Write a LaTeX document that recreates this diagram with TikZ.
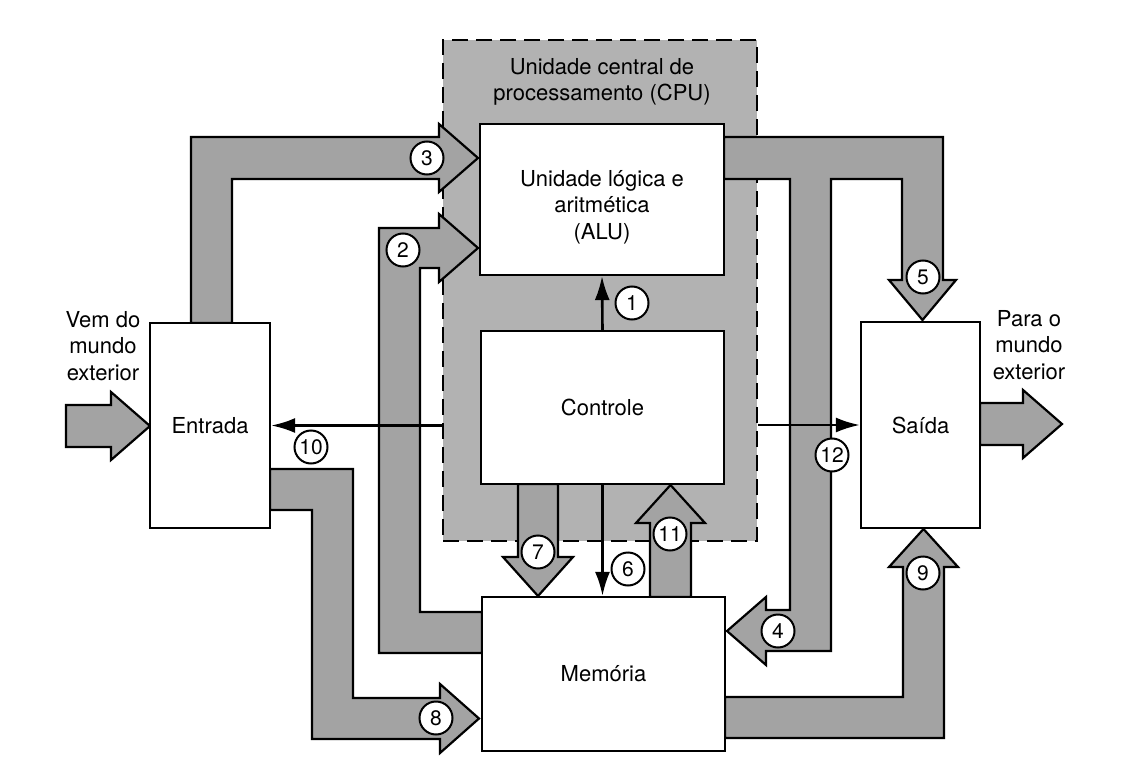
\documentclass[tikz,border=0pt]{standalone}
\usepackage{fontspec}
\setmainfont{TeX Gyre Heros}
\usetikzlibrary{arrows.meta}
\definecolor{busgray}{gray}{0.64}
\definecolor{cpugray}{gray}{0.70}

\begin{document}
\begin{tikzpicture}[x=1pt, y=-1pt,
  every node/.style={font=\fontsize{22}{26.5}\selectfont, align=center},
  cpubox/.style={draw, dash pattern=on 16pt off 8pt, line width=2.4pt, fill=cpugray, minimum width=314pt, minimum height=501pt, inner sep=0pt},
  unit/.style={draw, line width=2.2pt, fill=white, inner sep=0pt},
  bus/.style={draw, line width=2.2pt, fill=busgray, line join=miter},
  flow/.style={-{Latex[length=24pt,width=15pt]}, line width=2.6pt},
  num/.style={draw, circle, line width=2pt, fill=white, minimum size=33pt, inner sep=0pt, font=\fontsize{21}{21}\selectfont},
]
\useasboundingbox (0,0) rectangle (1125,768);

\node[cpubox] (cpu) at (600,290.5) {};
\node (cputxt) at (602,82) {Unidade central de\\processamento (CPU)};

% buses
\draw[bus] (191,323) -- (191,137) -- (439,137) -- (439,124) -- (478,158) -- (439,192) -- (439,179) -- (232,179) -- (232,323) -- cycle;
\draw[bus] (482,653) -- (379,653) -- (379,228) -- (439,228) -- (439,214) -- (478,248) -- (439,282) -- (439,268) -- (420,268) -- (420,612) -- (482,612) -- cycle;
\draw[bus] (270,469) -- (353,469) -- (353,698) -- (440,698) -- (440,684) -- (479,718.5) -- (440,753) -- (440,739) -- (312,739) -- (312,510) -- (270,510) -- cycle;
\draw[bus] (724,137) -- (943,137) -- (943,280) -- (956,280) -- (922.5,320) -- (889,280) -- (902,280) -- (902,179) -- (831,179) -- (831,651) -- (766,651) -- (766,665) -- (727,631) -- (766,597) -- (766,610) -- (790,610) -- (790,179) -- (724,179) -- cycle;
\draw[bus] (725,697) -- (903,697) -- (903,567) -- (889,567) -- (923.5,529) -- (958,567) -- (944,567) -- (944,738) -- (725,738) -- cycle;
\draw[bus] (518,484) -- (518,557) -- (503,557) -- (538,596) -- (573,557) -- (558,557) -- (558,484) -- cycle;
\draw[bus] (650,597) -- (650,523) -- (636,523) -- (670.5,485) -- (705,523) -- (691,523) -- (691,597) -- cycle;
\draw[bus] (66,405) -- (111,405) -- (111,392) -- (150,426) -- (111,460) -- (111,447) -- (66,447) -- cycle;
\draw[bus] (980,403) -- (1023,403) -- (1023,390) -- (1062,424) -- (1023,458) -- (1023,445) -- (980,445) -- cycle;

\node[unit, minimum width=244pt, minimum height=151pt] (alu) at (602,199.5) {};
\node (alutxt) at (602,207) {Unidade lógica e\\aritmética\\(ALU)};
\node[unit, minimum width=243pt, minimum height=153pt] (ctl) at (602.5,407.5) {Controle};
\node[unit, minimum width=243pt, minimum height=154pt] (mem) at (603.5,674) {Memória};
\node[unit, minimum width=120pt, minimum height=205pt] (ent) at (210,425.5) {Entrada};
\node[unit, minimum width=119pt, minimum height=206pt] (sai) at (920.5,425) {Saída};

\node (intxt) at (103,346) {Vem do\\mundo\\exterior};
\node (outtxt) at (1029,345) {Para o\\mundo\\exterior};

\draw[flow] (ctl.north) -- (alu.south);
\draw[flow] (ctl.south) -- (ctl.south |- mem.north);
\draw[flow] (ent.east -| cpu.west) -- (ent.east);
\draw[flow] (sai.west -| cpu.east) -- (sai.west);

\node[num] (n1) at (632,303) {1};
\node[num] (n2) at (403,250) {2};
\node[num] (n3) at (427,158) {3};
\node[num] (n4) at (778,631) {4};
\node[num] (n5) at (923,277) {5};
\node[num] (n6) at (628,569) {6};
\node[num] (n7) at (538,552) {7};
\node[num] (n8) at (436,718) {8};
\node[num] (n9) at (923,573) {9};
\node[num] (n10) at (311,447) {10};
\node[num] (n11) at (670,534) {11};
\node[num] (n12) at (832,455) {12};

\end{tikzpicture}
\end{document}
